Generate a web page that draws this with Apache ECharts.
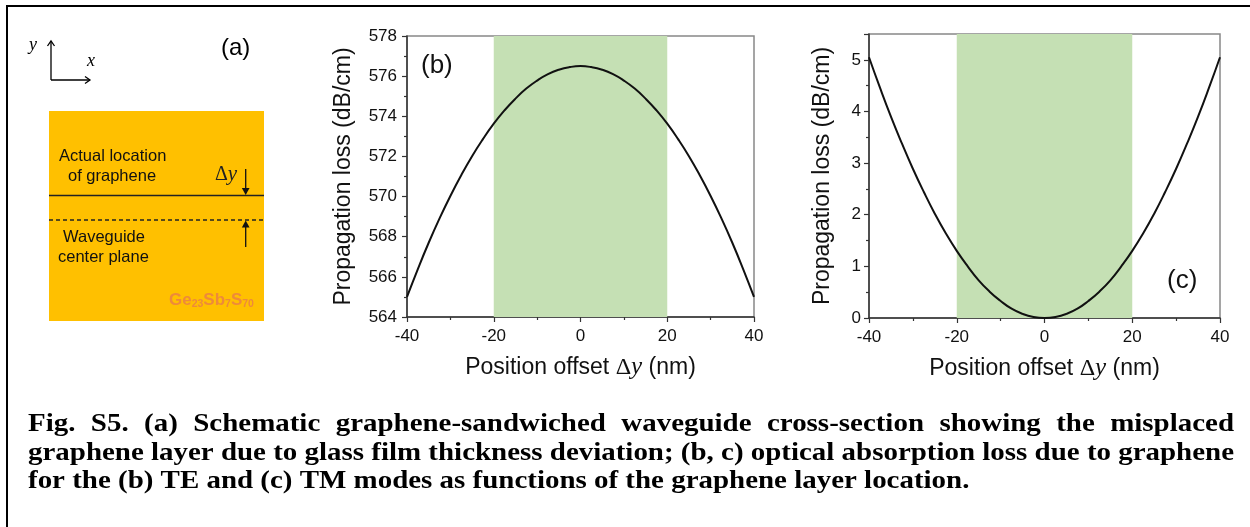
<!DOCTYPE html>
<html>
<head>
<meta charset="utf-8">
<script src="https://cdn.jsdelivr.net/npm/echarts@6/dist/echarts.min.js"></script>
<style>
  html, body { margin: 0; padding: 0; background: #fff; }
  #chart { width: 1250px; height: 527px; }
</style>
</head>
<body>
<div id="chart"></div>
<script>
// Graphene layer offset from the waveguide centre plane (nm)
const offsets = [-40, -37.5, -35, -32.5, -30, -27.5, -25, -22.5, -20, -17.5, -15, -12.5, -10, -7.5, -5, -2.5,
                 0, 2.5, 5, 7.5, 10, 12.5, 15, 17.5, 20, 22.5, 25, 27.5, 30, 32.5, 35, 37.5, 40];
// TE-mode propagation loss (dB/cm)
const teLoss = [565.0, 566.39, 567.70, 568.91, 570.03, 571.06, 572.01, 572.86, 573.63, 574.30, 574.88, 575.38, 575.78, 576.10, 576.32, 576.45,
                576.5, 576.45, 576.32, 576.10, 575.78, 575.38, 574.88, 574.30, 573.63, 572.86, 572.01, 571.06, 570.03, 568.91, 567.70, 566.39, 565.0];
// TM-mode propagation loss (dB/cm)
const tmLoss = [5.05, 4.46, 3.90, 3.38, 2.89, 2.44, 2.02, 1.64, 1.30, 1.00, 0.73, 0.51, 0.33, 0.18, 0.08, 0.02,
                0.0, 0.02, 0.08, 0.18, 0.33, 0.51, 0.73, 1.00, 1.30, 1.64, 2.02, 2.44, 2.89, 3.38, 3.90, 4.46, 5.05];
// Fabrication tolerance window (nm)
const toleranceBand = [-20, 20];

const captionLines = [
  'Fig. S5. (a) Schematic graphene-sandwiched waveguide cross-section showing the misplaced',
  'graphene layer due to glass film thickness deviation; (b, c) optical absorption loss due to graphene',
  'for the (b) TE and (c) TM modes as functions of the graphene layer location.'
];

const SANS = '"Liberation Sans", Arial, sans-serif';
const SERIF = '"Liberation Serif", "Times New Roman", serif';

const chart = echarts.init(document.getElementById('chart'), null, { renderer: 'canvas' });

function pairs(ys) { return offsets.map((x, i) => [x, ys[i]]); }

function xAxisFor(gridIndex) {
  return {
    type: 'value', gridIndex, min: -40, max: 40, interval: 20,
    name: '{t|Position offset }{g|Δ}{i|y}{t| (nm)}',
    nameLocation: 'middle', nameGap: 38,
    nameTextStyle: { rich: {
      t: { fontFamily: SANS, fontSize: 23, color: '#111' },
      g: { fontFamily: SERIF, fontSize: 24, color: '#111' },
      i: { fontFamily: SERIF, fontStyle: 'italic', fontSize: 25, color: '#111' }
    } },
    axisLine: { show: true, onZero: false, lineStyle: { color: '#333', width: 1.5 } },
    axisTick: { show: true, length: 5, lineStyle: { color: '#333', width: 1.2 } },
    minorTick: { show: true, splitNumber: 2, length: 3, lineStyle: { color: '#333', width: 1.2 } },
    axisLabel: { fontFamily: SANS, fontSize: 17, color: '#111', margin: 11 },
    splitLine: { show: false }, minorSplitLine: { show: false }
  };
}

function yAxisFor(gridIndex, min, max, interval, gap, labelMargin) {
  return {
    type: 'value', gridIndex, min, max, interval,
    name: 'Propagation loss (dB/cm)', nameLocation: 'middle', nameGap: gap,
    nameTextStyle: { fontFamily: SANS, fontSize: 23, color: '#111' },
    axisLine: { show: true, onZero: false, lineStyle: { color: '#333', width: 1.5 } },
    axisTick: { show: true, length: 5, lineStyle: { color: '#333', width: 1.2 } },
    minorTick: { show: true, splitNumber: 2, length: 3, lineStyle: { color: '#333', width: 1.2 } },
    axisLabel: {
      fontFamily: SANS, fontSize: 17, color: '#111', margin: labelMargin,
      formatter: v => (Number.isInteger(v) ? String(v) : '')
    },
    splitLine: { show: false }, minorSplitLine: { show: false }
  };
}

function lossSeries(idx, ys) {
  return {
    type: 'line', xAxisIndex: idx, yAxisIndex: idx, data: pairs(ys),
    smooth: 0.5, showSymbol: false, symbol: 'none', z: 3,
    lineStyle: { color: '#111', width: 2 },
    markArea: {
      silent: true, z: 1,
      itemStyle: { color: '#C5E0B4', opacity: 1 },
      data: [[{ xAxis: toleranceBand[0] }, { xAxis: toleranceBand[1] }]]
    }
  };
}

// Caption: bold serif, first line justified, lines fitted to the text block width
const capFont = 25.5;
const capLeft = 28, capRight = 1234;
const capBase = [429, 457.5, 486];
const capCss = 'bold ' + capFont + 'px ' + SERIF;
const measure = document.createElement('canvas').getContext('2d');
measure.font = capCss;
const spaceW = measure.measureText(' ').width;
const capScale = (capRight - capLeft) / measure.measureText(captionLines[1]).width;
const captionGraphics = captionLines.map((line, li) => {
  const words = line.split(' ');
  const widths = words.map(w => measure.measureText(w).width);
  const total = widths.reduce((a, b) => a + b, 0);
  const gap = li === 0 ? ((capRight - capLeft) / capScale - total) / (words.length - 1) : spaceW;
  let u = 0;
  const children = words.map((w, wi) => {
    const el = { type: 'text', x: u, y: 0, style: { text: w, font: capCss, fill: '#000', verticalAlign: 'middle' } };
    u += widths[wi] + gap;
    return el;
  });
  return { type: 'group', x: capLeft, y: capBase[li] - capFont * 0.33 + 4, scaleX: capScale, children };
});

// Schematic cross-section of the waveguide, panel (a)
const arrowHead = (x, y, dir, s) => {
  if (dir === 'up') return [[x, y], [x - s * 0.55, y + s], [x + s * 0.55, y + s]];
  return [[x, y], [x - s * 0.55, y - s], [x + s * 0.55, y - s]];
};

const schematic = [
  // frame around the figure
  { type: 'polyline', shape: { points: [[7, 560], [7, 6], [1260, 6]] }, style: { stroke: '#000', lineWidth: 2, fill: null } },
  // coordinate icon
  { type: 'line', shape: { x1: 51, y1: 80, x2: 51, y2: 41 }, style: { stroke: '#000', lineWidth: 1.3 } },
  { type: 'polyline', shape: { points: [[47.5, 46], [51, 41], [54.5, 46]] }, style: { stroke: '#000', lineWidth: 1.3, fill: null } },
  { type: 'line', shape: { x1: 51, y1: 80, x2: 90, y2: 80 }, style: { stroke: '#000', lineWidth: 1.3 } },
  { type: 'polyline', shape: { points: [[85, 76.5], [90, 80], [85, 83.5]] }, style: { stroke: '#000', lineWidth: 1.3, fill: null } },
  { type: 'text', left: 29, top: 36, style: { text: 'y', font: 'italic 18px ' + SERIF, fill: '#000' } },
  { type: 'text', left: 87, top: 52, style: { text: 'x', font: 'italic 18px ' + SERIF, fill: '#000' } },
  { type: 'text', left: 221, top: 36, style: { text: '(a)', font: '24px ' + SANS, fill: '#000' } },
  // glass film
  { type: 'rect', shape: { x: 49, y: 111, width: 215, height: 210 }, style: { fill: '#FFC000' } },
  { type: 'line', shape: { x1: 49, y1: 195.5, x2: 264, y2: 195.5 }, style: { stroke: '#222', lineWidth: 1.6 } },
  { type: 'line', shape: { x1: 49, y1: 220, x2: 264, y2: 220 }, style: { stroke: '#222', lineWidth: 1.3, lineDash: [4, 3] } },
  { type: 'text', left: 59, top: 148, style: { text: 'Actual location', font: '16.5px ' + SANS, fill: '#111' } },
  { type: 'text', left: 68, top: 168, style: { text: 'of graphene', font: '16.5px ' + SANS, fill: '#111' } },
  { type: 'text', left: 63, top: 229, style: { text: 'Waveguide', font: '16.5px ' + SANS, fill: '#111' } },
  { type: 'text', left: 58, top: 249, style: { text: 'center plane', font: '16.5px ' + SANS, fill: '#111' } },
  { type: 'text', left: 215, top: 164, style: {
      text: '{g|Δ}{i|y}',
      rich: { g: { font: '20px ' + SERIF, fill: '#222' }, i: { font: 'italic 21px ' + SERIF, fill: '#222' } } } },
  { type: 'line', shape: { x1: 245.7, y1: 169, x2: 245.7, y2: 189 }, style: { stroke: '#111', lineWidth: 1.3 } },
  { type: 'polygon', shape: { points: arrowHead(245.7, 195, 'down', 7) }, style: { fill: '#111' } },
  { type: 'line', shape: { x1: 245.7, y1: 247, x2: 245.7, y2: 226 }, style: { stroke: '#111', lineWidth: 1.3 } },
  { type: 'polygon', shape: { points: arrowHead(245.7, 220.5, 'up', 7) }, style: { fill: '#111' } },
  { type: 'text', left: 169, top: 292, style: {
      text: '{m|Ge}{s|23}{m|Sb}{s|7}{m|S}{s|70}',
      rich: {
        m: { font: 'bold 17px ' + SANS, fill: '#EE8A3A' },
        s: { font: 'bold 10.5px ' + SANS, fill: '#EE8A3A', verticalAlign: 'bottom', padding: [7, 0, 0, 0] }
      } } },
  // panel tags
  { type: 'text', left: 421, top: 53, style: { text: '(b)', font: '26px ' + SANS, fill: '#111' } },
  { type: 'text', left: 1167, top: 268, style: { text: '(c)', font: '26px ' + SANS, fill: '#111' } }
];

chart.setOption({
  animation: false,
  backgroundColor: '#fff',
  grid: [
    { left: 407, top: 36, width: 347, height: 281, show: true, borderColor: '#888', borderWidth: 1.5, backgroundColor: 'transparent' },
    { left: 869, top: 34, width: 351, height: 284, show: true, borderColor: '#888', borderWidth: 1.5, backgroundColor: 'transparent' }
  ],
  xAxis: [xAxisFor(0), xAxisFor(1)],
  yAxis: [yAxisFor(0, 564, 578, 2, 52, 10), yAxisFor(1, 0, 5.5, 1, 35, 8)],
  series: [lossSeries(0, teLoss), lossSeries(1, tmLoss)],
  graphic: schematic.concat(captionGraphics)
});
</script>
</body>
</html>
